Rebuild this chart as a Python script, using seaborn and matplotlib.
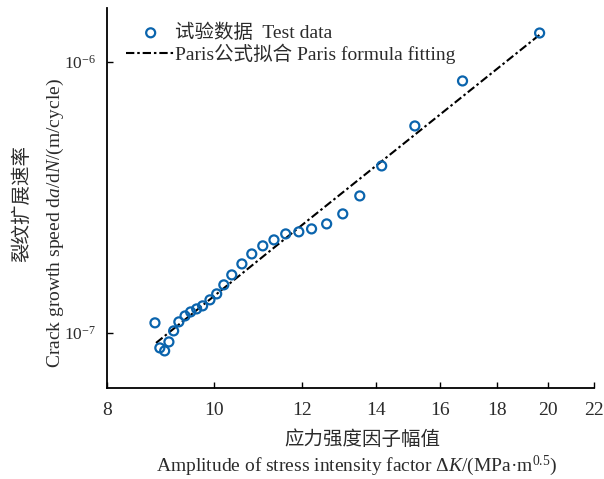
import numpy as np
import pandas as pd
import matplotlib
matplotlib.use('Agg')
import matplotlib.pyplot as plt
import matplotlib.ticker as mticker
import seaborn as sns

# test data
delta_k = [8.84, 8.93, 9.02, 9.10, 9.19, 9.29, 9.41, 9.52, 9.64, 9.76,
           9.91, 10.05, 10.20, 10.37, 10.59, 10.81, 11.06, 11.32, 11.60, 11.92,
           12.24, 12.63, 13.06, 13.53, 14.16, 15.17, 16.75, 19.66]
rate = [1.089e-7, 8.80e-8, 8.58e-8, 9.26e-8, 1.017e-7, 1.098e-7, 1.155e-7, 1.195e-7, 1.226e-7, 1.258e-7,
        1.324e-7, 1.393e-7, 1.504e-7, 1.637e-7, 1.797e-7, 1.956e-7, 2.095e-7, 2.204e-7, 2.319e-7, 2.360e-7,
        2.420e-7, 2.525e-7, 2.749e-7, 3.203e-7, 4.133e-7, 5.805e-7, 8.51e-7, 1.279e-6]

# Paris fit line
fit_k = [8.86, 11.94, 19.66]
fit_rate = [9.18e-8, 2.46e-7, 1.26e-6]

x_ticks = [8, 10, 12, 14, 16, 18, 20, 22]
y_ticks = [1e-7, 1e-6]
y_tick_labels = ['$10^{-7}$', '$10^{-6}$']

df = pd.DataFrame({'dK': delta_k, 'rate': rate})
fit = pd.DataFrame({'dK': fit_k, 'rate': fit_rate})

sns.set_style('ticks')
plt.rcParams['font.family'] = ['Liberation Serif', 'Noto Sans CJK SC']
plt.rcParams['mathtext.fontset'] = 'custom'
plt.rcParams['mathtext.rm'] = 'Liberation Serif'
plt.rcParams['mathtext.it'] = 'Liberation Serif:italic'

txt = '#2b2b2b'
fig = plt.figure(figsize=(6.04, 4.79), dpi=100)
ax = fig.add_axes([0.177, 0.19, 0.806, 0.793])

sns.scatterplot(data=df, x='dK', y='rate', ax=ax, marker='o', s=42,
                facecolor='none', edgecolor='#0a64ad', linewidth=1.6,
                label='试验数据  Test data', zorder=3)
sns.lineplot(data=fit, x='dK', y='rate', ax=ax, color='black', linewidth=1.5,
             linestyle=(0, (4, 1.4, 1.2, 1.4)), label='Paris公式拟合 Paris formula fitting',
             zorder=2)

ax.set_xscale('log')
ax.set_yscale('log')
ax.set_xlim(8, 22)
ax.set_ylim(6.26e-8, 1.58e-6)
ax.xaxis.set_major_locator(mticker.FixedLocator(x_ticks))
ax.xaxis.set_major_formatter(mticker.FixedFormatter([str(t) for t in x_ticks]))
ax.xaxis.set_minor_locator(mticker.NullLocator())
ax.yaxis.set_major_locator(mticker.FixedLocator(y_ticks))
ax.yaxis.set_major_formatter(mticker.FixedFormatter(y_tick_labels))
ax.yaxis.set_minor_locator(mticker.NullLocator())
ax.tick_params(direction='in', length=4, width=1, colors='black', labelcolor=txt,
               labelsize=14, pad=10)
ax.tick_params(axis='y', labelsize=12.5, pad=8)
sns.despine(ax=ax)
for s in ['left', 'bottom']:
    ax.spines[s].set_linewidth(1.3)
    ax.spines[s].set_color('black')
ax.set_xlabel('')
ax.set_ylabel('')

leg = ax.legend(loc='upper left', bbox_to_anchor=(0.02, 0.985), frameon=False,
                fontsize=14, handlelength=2.5, handletextpad=0.0, labelspacing=0.1,
                borderaxespad=0.1)
for t in leg.get_texts():
    t.set_color(txt)

fig.text(0.6, 0.082, '应力强度因子幅值', ha='center', va='center', fontsize=14, color=txt)
fig.text(0.59, 0.028, 'Amplitude of stress intensity factor $\\Delta\\mathit{K}$/(MPa·m$^{0.5}$)',
         ha='center', va='center', fontsize=14, color=txt)
fig.text(0.037, 0.575, '裂纹扩展速率', ha='center', va='center', rotation=90,
         fontsize=14, color=txt)
fig.text(0.092, 0.535, 'Crack growth speed d$\\mathit{a}$/d$\\mathit{N}$/(m/cycle)',
         ha='center', va='center', rotation=90, fontsize=14, color=txt)

fig.savefig('out.png', dpi=100)
